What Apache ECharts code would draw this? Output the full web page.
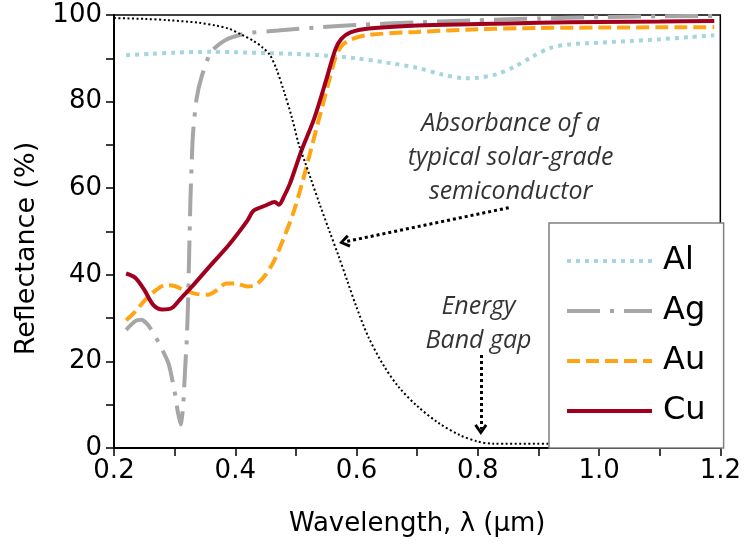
<!DOCTYPE html>
<html>
<head>
<meta charset="utf-8">
<script src="https://cdn.jsdelivr.net/npm/echarts@6/dist/echarts.min.js"></script>
<style>
html, body { margin: 0; padding: 0; background: #fff; }
#chart { width: 744px; height: 548px; }
</style>
</head>
<body>
<div id="chart"></div>
<script>
// wavelength (um) and reflectance (%)
var alX = [0.22, 0.26, 0.30, 0.36, 0.40, 0.45, 0.50, 0.55, 0.60, 0.65, 0.70, 0.74, 0.78, 0.80, 0.83, 0.86, 0.89, 0.92, 0.95, 1.00, 1.05, 1.10, 1.15, 1.19];
var alY = [90.7, 91.0, 91.3, 91.5, 91.4, 91.2, 91.0, 90.6, 90.0, 89.0, 87.8, 86.3, 85.4, 85.5, 86.3, 88.0, 90.4, 92.4, 93.2, 93.6, 94.0, 94.4, 94.9, 95.3];

var agX = [0.22, 0.235, 0.245, 0.255, 0.265, 0.275, 0.29, 0.30, 0.305, 0.31, 0.314, 0.317, 0.32, 0.322, 0.324, 0.326, 0.33, 0.336, 0.345, 0.36, 0.385, 0.42, 0.47, 0.54, 0.60, 0.70, 0.80, 0.90, 1.00, 1.10, 1.19];
var agY = [27.3, 29.3, 29.6, 28.6, 26.5, 24.0, 19.5, 13.0, 8.5, 5.4, 9.6, 17.5, 25.0, 33.0, 45.0, 57.0, 72.0, 80.5, 86.0, 91.5, 94.3, 95.8, 96.4, 97.2, 97.7, 98.3, 98.8, 99.2, 99.5, 99.7, 99.8];

var auX = [0.22, 0.235, 0.25, 0.265, 0.285, 0.30, 0.315, 0.335, 0.355, 0.37, 0.385, 0.40, 0.42, 0.435, 0.45, 0.465, 0.48, 0.495, 0.51, 0.525, 0.54, 0.555, 0.565, 0.575, 0.59, 0.62, 0.70, 0.80, 0.90, 1.00, 1.19];
var auY = [29.5, 31.5, 34.0, 36.0, 37.6, 37.4, 36.5, 35.6, 35.4, 36.5, 38.0, 38.0, 37.3, 37.8, 40.0, 43.5, 48.5, 54.0, 61.0, 69.0, 77.0, 85.0, 90.0, 92.8, 94.3, 95.4, 96.1, 96.7, 97.0, 97.1, 97.2];

var cuX = [0.22, 0.235, 0.25, 0.265, 0.28, 0.295, 0.31, 0.33, 0.36, 0.39, 0.42, 0.43, 0.45, 0.465, 0.472, 0.48, 0.49, 0.50, 0.51, 0.53, 0.55, 0.565, 0.575, 0.59, 0.62, 0.70, 0.80, 0.90, 1.00, 1.10, 1.19];
var cuY = [40.3, 39.3, 36.5, 33.0, 32.0, 32.3, 34.5, 37.5, 42.3, 47.0, 52.5, 54.8, 56.0, 56.8, 56.2, 58.0, 61.0, 65.0, 69.0, 76.0, 85.0, 92.0, 94.5, 96.0, 96.9, 97.6, 97.9, 98.2, 98.4, 98.5, 98.6];

// absorbance of the semiconductor (black dotted)
var absX = [0.20, 0.25, 0.29, 0.34, 0.37, 0.39, 0.41, 0.43, 0.445, 0.457, 0.468, 0.48, 0.493, 0.505, 0.515, 0.525, 0.54, 0.555, 0.57, 0.585, 0.60, 0.62, 0.645, 0.67, 0.70, 0.735, 0.77, 0.80, 0.825, 0.95];
var absY = [99.3, 99.1, 98.8, 98.2, 97.5, 96.8, 95.5, 94.0, 92.5, 90.8, 87.5, 82.5, 76.5, 70.0, 66.0, 62.0, 56.0, 50.2, 44.5, 38.5, 32.5, 25.5, 19.0, 14.0, 9.7, 5.8, 3.0, 1.5, 1.0, 1.0];

var seriesNames = ['Al', 'Ag', 'Au', 'Cu'];

// annotation arrows [from, to] in data units
var arrowAbs = [[0.851, 55.5], [0.580, 47.6]];
var arrowGap = [[0.805, 21.5], [0.805, 4.3]];

var noteAbs = [0.855, 67.0, 'Absorbance of a\ntypical solar-grade\nsemiconductor'];
var noteGap = [0.802, 28.5, 'Energy\nBand gap'];

function zip(xs, ys) {
	var out = [];
	for (var i = 0; i < xs.length; i++) {
		out.push([xs[i], ys[i]]);
	}
	return out;
}

var chevron = 'path://M5,0 L10,8 L8.2,9.6 L5,4 L1.8,9.6 L0,8 Z';
var labelFont = 'DejaVu Sans';
var noteFont = 'Open Sans';

var mychart = echarts.init(document.getElementById('chart'));
var option = {
	backgroundColor: '#FFFFFF',
	animation: false,
	grid: {
		left: 114,
		right: 22,
		top: 15,
		bottom: 100,
		show: true,
		borderColor: '#000',
		borderWidth: 1.5
	},
	legend: {
		orient: 'vertical',
		left: 549,
		top: 223,
		data: seriesNames,
		selectedMode: false,
		itemWidth: 85,
		itemHeight: 28,
		itemGap: 18,
		padding: [22, 18, 21, 16],
		backgroundColor: '#fff',
		borderColor: '#808080',
		borderWidth: 1.5,
		itemStyle: { opacity: 0 },
		lineStyle: { width: 4 },
		textStyle: {
			fontFamily: labelFont,
			fontSize: 32,
			color: '#000',
			padding: [0, 0, 0, 6]
		}
	},
	xAxis: {
		type: 'value',
		min: 0.2,
		max: 1.2,
		interval: 0.1,
		name: 'Wavelength, λ (μm)',
		nameLocation: 'middle',
		nameGap: 63,
		nameTextStyle: { fontFamily: labelFont, fontSize: 26, color: '#000' },
		axisLine: { lineStyle: { color: '#000', width: 2 } },
		axisTick: { length: 8, lineStyle: { color: '#000', width: 1.5 } },
		splitLine: { show: false },
		axisLabel: {
			margin: 10,
			fontFamily: labelFont,
			fontSize: 26,
			color: '#000',
			formatter: function(v) {
				return Math.round(v * 10) % 2 === 0 ? v.toFixed(1) : '';
			}
		}
	},
	yAxis: {
		type: 'value',
		min: 0,
		max: 100,
		interval: 10,
		name: 'Reflectance (%)',
		nameLocation: 'middle',
		nameGap: 74,
		nameTextStyle: { fontFamily: labelFont, fontSize: 27, color: '#000', padding: [0, 34, 0, 0] },
		axisLine: { lineStyle: { color: '#000', width: 2 } },
		axisTick: { length: 8, lineStyle: { color: '#000', width: 1.5 } },
		splitLine: { show: false },
		axisLabel: {
			margin: 12,
			fontFamily: labelFont,
			fontSize: 26,
			color: '#000',
			formatter: function(v) {
				return v % 20 === 0 ? v : '';
			}
		}
	},
	series: [ {
		name: 'Al',
		type: 'line',
		symbol: 'none',
		smooth: 0.3,
		data: zip(alX, alY),
		lineStyle: { color: '#A3D6DE', width: 4, type: [4, 5], cap: 'butt' },
		itemStyle: { color: '#A3D6DE' }
	}, {
		name: 'Ag',
		type: 'line',
		symbol: 'none',
		smooth: 0.2,
		data: zip(agX, agY),
		lineStyle: { color: '#A6A6A6', width: 4, type: [33, 10, 4, 10], cap: 'butt' },
		itemStyle: { color: '#A6A6A6' }
	}, {
		name: 'Au',
		type: 'line',
		symbol: 'none',
		smooth: 0.3,
		data: zip(auX, auY),
		lineStyle: { color: '#FFA514', width: 4, type: [13, 6], cap: 'butt' },
		itemStyle: { color: '#FFA514' }
	}, {
		name: 'Cu',
		type: 'line',
		symbol: 'none',
		smooth: 0.3,
		data: zip(cuX, cuY),
		lineStyle: { color: '#A0001E', width: 4 },
		itemStyle: { color: '#A0001E' }
	}, {
		name: 'Absorbance',
		type: 'line',
		symbol: 'none',
		smooth: 0.3,
		data: zip(absX, absY),
		lineStyle: { color: '#000', width: 2, type: [2, 2.5], cap: 'butt' },
		markLine: {
			silent: true,
			symbol: ['none', chevron],
			symbolSize: [13, 11],
			label: { show: false },
			lineStyle: { color: '#000', width: 3, type: [3, 3] },
			itemStyle: { color: '#000' },
			data: [
				[ { coord: arrowAbs[0] }, { coord: arrowAbs[1] } ],
				[ { coord: arrowGap[0] }, { coord: arrowGap[1] } ]
			]
		}
	}, {
		name: 'notes',
		type: 'scatter',
		symbolSize: 1,
		silent: true,
		itemStyle: { color: 'rgba(0,0,0,0)' },
		label: {
			show: true,
			position: [0, 0],
			align: 'center',
			verticalAlign: 'middle',
			formatter: function(p) {
				return p.data[2];
			},
			fontFamily: noteFont,
			fontStyle: 'italic',
			fontSize: 25,
			lineHeight: 34,
			color: '#000',
			textBorderWidth: 0
		},
		data: [ noteAbs, noteGap ]
	} ]
};
mychart.setOption(option);
</script>
</body>
</html>
